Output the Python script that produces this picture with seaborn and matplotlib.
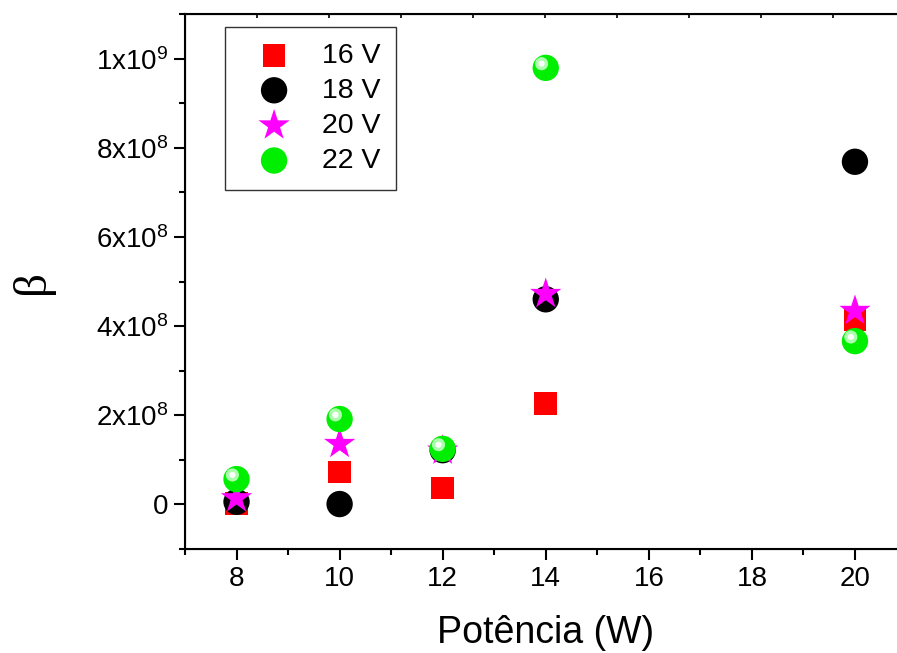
import numpy as np
import pandas as pd
import seaborn as sns
import matplotlib.pyplot as plt
from matplotlib.ticker import MultipleLocator, FuncFormatter
from matplotlib.transforms import offset_copy

# dados
potencia = [8, 10, 12, 14, 20]
beta_16v = [2e6, 7.2e7, 3.6e7, 2.25e8, 4.15e8]
beta_18v = [5e6, 0.0, 1.21e8, 4.6e8, 7.69e8]
beta_20v = [1.3e7, 1.35e8, 1.2e8, 4.72e8, 4.34e8]
beta_22v = [5.6e7, 1.91e8, 1.24e8, 9.8e8, 3.66e8]
labels = ['16 V', '18 V', '20 V', '22 V']

df = pd.DataFrame({
    'P': potencia * 4,
    'beta': beta_16v + beta_18v + beta_20v + beta_22v,
    'tensao': [l for l in labels for _ in potencia],
})

sns.set_style('ticks')
plt.rcParams['font.family'] = ['Liberation Sans', 'DejaVu Sans']
plt.rcParams['mathtext.fontset'] = 'custom'
plt.rcParams['mathtext.rm'] = 'Liberation Sans'
for k in ['text.color', 'axes.labelcolor', 'xtick.color', 'ytick.color', 'axes.edgecolor']:
    plt.rcParams[k] = 'black'

fig = plt.figure(figsize=(8.97, 6.53), dpi=100)
ax = fig.add_axes([185 / 897, 1 - 549 / 653, 721.5 / 897, 535 / 653])

estilos = {
    '16 V': dict(color='#ff0000', marker='s', s=270),
    '18 V': dict(color='#000000', marker='o', s=360),
    '20 V': dict(color='#ff00ff', marker='*', s=560),
    '22 V': dict(color='#00ee00', marker='o', s=360),
}
for lab in labels:
    sub = df[df['tensao'] == lab]
    sns.scatterplot(data=sub, x='P', y='beta', ax=ax, label=lab,
                    edgecolor='none', linewidth=0, zorder=3, **estilos[lab])

# brilho das esferas verdes
sub = df[df['tensao'] == '22 V']
tr = offset_copy(ax.transData, fig=fig, x=-3, y=3, units='points')
ax.scatter(sub['P'], sub['beta'], s=90, color='#aaffaa', edgecolor='none', zorder=4, transform=tr)
ax.scatter(sub['P'], sub['beta'], s=20, color='white', edgecolor='none', zorder=5, transform=tr)

ax.set_xlim(7, 21)
ax.set_ylim(-1.01e8, 1.101e9)
ax.xaxis.set_major_locator(MultipleLocator(2))
ax.xaxis.set_minor_locator(MultipleLocator(1))
ax.yaxis.set_major_locator(MultipleLocator(2e8))
ax.yaxis.set_minor_locator(MultipleLocator(1e8))


def fmt_y(v, pos):
    if abs(v) < 1:
        return '0'
    e = int(np.floor(np.log10(abs(v)) + 1e-9))
    m = v / 10 ** e
    return r'$\mathregular{%dx10^{%d}}$' % (round(m), e)


ax.yaxis.set_major_formatter(FuncFormatter(fmt_y))
ax.tick_params(which='major', direction='out', length=8, width=1.5, labelsize=20, pad=4)
ax.tick_params(which='minor', direction='out', length=4, width=1.5)
for lado in ['left', 'bottom', 'top', 'right']:
    ax.spines[lado].set_linewidth(1.5)

topo = ax.twiny()
topo.set_xlim(0, 721.5)
topo.xaxis.set_major_locator(MultipleLocator(72))
topo.tick_params(axis='x', direction='in', length=3, width=1.2, labeltop=False)

ax.set_xlabel('Potência (W)', fontsize=27, labelpad=17)
ax.set_ylabel('β', fontsize=34, family=['Liberation Serif', 'DejaVu Serif'], labelpad=30)

leg = ax.legend(loc='upper left', bbox_to_anchor=(0.0554, 0.9757), borderaxespad=0,
                fontsize=20.5, frameon=True, fancybox=False, handletextpad=0.5,
                labelspacing=0.32, borderpad=0.55, handlelength=2.35, markerscale=1.0)
leg.get_frame().set_edgecolor('black')
leg.get_frame().set_linewidth(1.0)

fig.savefig('out.png', dpi=100)
